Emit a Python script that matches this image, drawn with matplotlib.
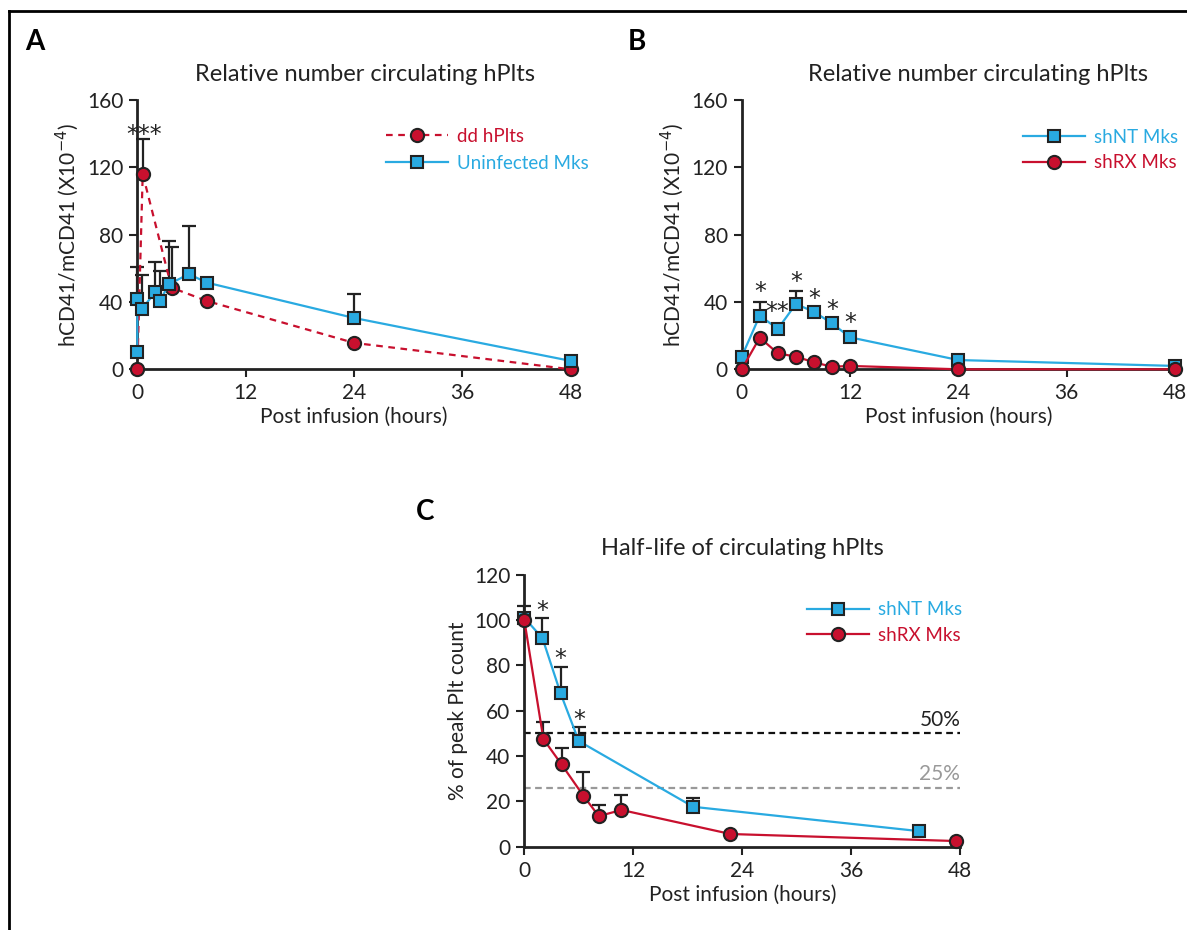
import numpy as np
import matplotlib
matplotlib.use('Agg')
import matplotlib.pyplot as plt
from matplotlib.lines import Line2D

plt.rcParams['font.family'] = ['Lato', 'DejaVu Sans']

BLUE = '#29aae1'
RED = '#c8102e'
EDGE = '#222222'

# Panel A: relative number circulating hPlts
a_blue_t = [0, 0, 0.5, 2, 2.5, 3.5, 5.7, 7.7, 24, 48]
a_blue_y = [10.5, 41.6, 35.8, 45.9, 40.6, 50.5, 56.6, 51.5, 30.5, 5]
a_blue_err = [0, 19.4, 20, 18, 18, 26, 28.4, 0, 14.2, 0]
a_red_t = [0, 0.6, 3.8, 7.7, 24, 48]
a_red_y = [0, 116, 48.5, 40.6, 15.7, 0]
a_red_err = [0, 21, 24, 0, 0, 0]

# Panel B: shNT vs shRX
b_t = [0, 2, 4, 6, 8, 10, 12, 24, 48]
b_blue_y = [7.5, 31.9, 24, 38.8, 34.2, 27.3, 19, 5.5, 2]
b_blue_err = [0, 8.3, 0, 7.7, 0, 0, 0, 0, 0]
b_red_y = [0, 18.8, 9.5, 7.5, 4.2, 1.5, 2, 0, 0]
b_stars_t = [2, 3.9, 6, 8, 10, 12]
b_stars_y = [46, 34, 52, 42, 35, 27.7]
b_stars = ['*', '**', '*', '*', '*', '*']

# Panel C: half-life
c_blue_t = [0, 2, 4, 6, 18.6, 43.4]
c_blue_y = [101, 92, 67.6, 46.6, 17.6, 6.9]
c_blue_err = [5, 9, 11.8, 6.4, 3.7, 0]
c_red_t = [0, 2.1, 4.1, 6.5, 8.2, 10.7, 22.7, 47.5]
c_red_y = [100, 47.5, 36.3, 22.5, 13.5, 16.2, 5.6, 2.5]
c_red_err = [0, 7.6, 7.4, 10.5, 4.9, 6.6, 0, 0]
c_stars_t = [2, 4, 6]
c_stars_y = [104, 83, 56]

fig = plt.figure(figsize=(11.87, 9.3), dpi=100)

# frame lines at top and left
fig.add_artist(Line2D([9/1187, 1], [1 - 11/930, 1 - 11/930], color='black', lw=2))
fig.add_artist(Line2D([9/1187, 9/1187], [0, 1 - 11/930], color='black', lw=2))

STAR = dict(ha='center', va='center', fontsize=17, color='#222222', family='DejaVu Sans')


def style(ax, ymax, ystep):
    ax.set_xlim(0, 48)
    ax.set_ylim(0, ymax)
    ax.set_xticks([0, 12, 24, 36, 48])
    ax.set_yticks(np.arange(0, ymax + 1, ystep))
    for s in ['top', 'right']:
        ax.spines[s].set_visible(False)
    for s in ['left', 'bottom']:
        ax.spines[s].set_linewidth(2)
        ax.spines[s].set_color('#222222')
    ax.tick_params(direction='out', length=6, width=1.5, labelsize=15,
                   colors='#222222', pad=4)
    ax.set_xlabel('Post infusion (hours)', fontsize=15, color='#222222', labelpad=3)


def series(ax, t, y, err, color, marker, ls, label, ms):
    t = np.array(t)
    y = np.array(y)
    err = np.array(err)
    m = err > 0
    if m.any():
        ax.errorbar(t[m], y[m], yerr=[np.zeros(m.sum()), err[m]], fmt='none',
                    ecolor='#222222', elinewidth=1.6, capsize=5, capthick=1.6,
                    clip_on=False, zorder=2)
    ax.plot(t, y, color=color, ls=ls, lw=1.6, marker=marker, ms=ms,
            mfc=color, mec=EDGE, mew=1.5, label=label, clip_on=False, zorder=3)


def legend(ax, x, y, sp):
    ax.legend(loc='upper right', bbox_to_anchor=(x, y), frameon=False,
              fontsize=13.5, labelcolor='linecolor', handlelength=3.3,
              labelspacing=sp, handletextpad=0.5)


# A
axA = fig.add_axes([137.3/1187, 1 - 369.3/930, 433.4/1187, 269.3/930])
style(axA, 160, 40)
series(axA, a_red_t, a_red_y, a_red_err, RED, 'o', (0, (3, 2.5)), 'dd hPlts', 9.5)
series(axA, a_blue_t, a_blue_y, a_blue_err, BLUE, 's', '-', 'Uninfected Mks', 9)
axA.text(0.7, 139, '***', **STAR)
axA.set_ylabel('hCD41/mCD41 (X10$^{-4}$)', fontsize=15, color='#222222')
axA.set_title('Relative number circulating hPlts', fontsize=17, color='#222222',
              pad=14, x=0.525)
legend(axA, 1.081, 0.96, 0.55)

# B
axB = fig.add_axes([741.7/1187, 1 - 369.3/930, 433.3/1187, 269.3/930])
style(axB, 160, 40)
series(axB, b_t, b_blue_y, b_blue_err, BLUE, 's', '-', 'shNT Mks', 9)
series(axB, b_t, b_red_y, [0]*len(b_t), RED, 'o', '-', 'shRX Mks', 9.5)
for t, y, s in zip(b_stars_t, b_stars_y, b_stars):
    axB.text(t, y, s, **STAR)
axB.set_ylabel('hCD41/mCD41 (X10$^{-4}$)', fontsize=15, color='#222222')
axB.set_title('Relative number circulating hPlts', fontsize=17, color='#222222',
              pad=14, x=0.545)
legend(axB, 1.047, 0.955, 0.45)

# C
axC = fig.add_axes([524.3/1187, 1 - 846.7/930, 436/1187, 272/930])
style(axC, 120, 20)
axC.axhline(50, color='#111111', ls=(0, (3, 2)), lw=1.6, zorder=1)
axC.axhline(26, color='#999999', ls=(0, (3, 2)), lw=1.6, zorder=1)
axC.text(48, 51.5, '50%', ha='right', va='bottom', fontsize=15, color='#222222')
axC.text(48, 27.5, '25%', ha='right', va='bottom', fontsize=15, color='#999999')
series(axC, c_blue_t, c_blue_y, c_blue_err, BLUE, 's', '-', 'shNT Mks', 9)
series(axC, c_red_t, c_red_y, c_red_err, RED, 'o', '-', 'shRX Mks', 9.5)
for t, y in zip(c_stars_t, c_stars_y):
    axC.text(t, y, '*', **STAR)
axC.set_ylabel('% of peak Plt count', fontsize=15, color='#222222')
axC.set_title('Half-life of circulating hPlts', fontsize=17, color='#222222', pad=14)
legend(axC, 1.044, 0.965, 0.45)

# panel letters
fig.text(35/1187, 1 - 42/930, 'A', fontsize=20, fontweight='bold', va='center', ha='center')
fig.text(637/1187, 1 - 42/930, 'B', fontsize=20, fontweight='bold', va='center', ha='center')
fig.text(425/1187, 1 - 512/930, 'C', fontsize=20, fontweight='bold', va='center', ha='center')

fig.savefig('out.png', dpi=100)
